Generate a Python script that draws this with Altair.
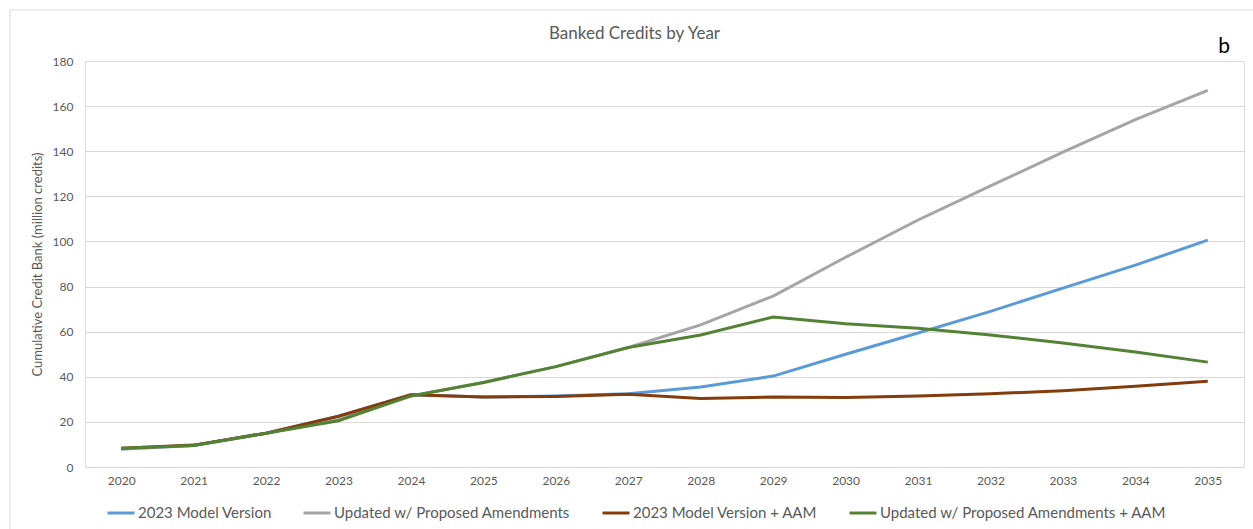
import altair as alt
import pandas as pd

years = [str(y) for y in range(2020, 2036)]

series_names = [
    "2023 Model Version",
    "Updated w/ Proposed Amendments",
    "2023 Model Version + AAM",
    "Updated w/ Proposed Amendments + AAM",
]
series_colors = ["#5B9BD5", "#A5A5A5", "#843C0C", "#548235"]

model_2023 = [8.0, 9.5, 15.0, 22.5, 32.0, 31.0, 31.5, 32.5, 35.5, 40.3, 50.0, 59.4, 69.0, 79.3, 89.5, 100.6]
updated = [8.0, 9.5, 15.0, 21.0, 31.5, 37.5, 44.5, 53.0, 63.0, 75.8, 93.0, 109.5, 124.6, 139.6, 154.0, 167.0]
model_2023_aam = [8.3, 9.7, 15.0, 22.5, 32.0, 31.0, 31.3, 32.3, 30.4, 31.0, 30.8, 31.5, 32.5, 33.8, 35.8, 38.0]
updated_aam = [8.3, 9.5, 15.0, 20.5, 31.5, 37.5, 44.5, 53.0, 58.5, 66.5, 63.5, 61.5, 58.5, 55.0, 51.0, 46.5]

rows = []
for name, vals in zip(series_names, [model_2023, updated, model_2023_aam, updated_aam]):
    for yr, v in zip(years, vals):
        rows.append({"Year": yr, "Value": v, "Series": name, "order": series_names.index(name)})
df = pd.DataFrame(rows)

W, H = 1159, 406
FONT = "Lato"
GRAY = "#595959"

lines = alt.Chart(df).mark_line(strokeWidth=3).encode(
    x=alt.X("Year:O", sort=years,
            scale=alt.Scale(type="point", padding=0.5),
            axis=alt.Axis(title=None, labelAngle=0, domain=False, ticks=False,
                          labelPadding=8, labelFontSize=12, labelColor=GRAY,
                          labelFont=FONT, grid=False)),
    y=alt.Y("Value:Q", scale=alt.Scale(domain=[0, 180], nice=False),
            axis=alt.Axis(title="Cumulative Credit Bank (million credits)",
                          values=list(range(0, 181, 20)), domain=False, ticks=False,
                          labelPadding=12, labelFontSize=12, labelColor=GRAY,
                          labelFont=FONT, titleFont=FONT, titleFontSize=13,
                          titleColor=GRAY, titleFontWeight="normal", titlePadding=8,
                          gridColor="#D9D9D9", gridWidth=1)),
    color=alt.Color("Series:N",
                    scale=alt.Scale(domain=series_names, range=series_colors),
                    legend=alt.Legend(title=None, orient="none", direction="horizontal",
                                      legendX=21, legendY=437, padding=0,
                                      symbolType="stroke", symbolStrokeWidth=3,
                                      symbolSize=729, labelFontSize=15, labelColor=GRAY,
                                      labelFont=FONT, labelOffset=2, columnPadding=25,
                                      labelLimit=500)),
    detail="order:O",
)

frame = alt.Chart(alt.Data(values=[{"a": 1}])).mark_rect(
    fill=None, stroke="#D9D9D9", strokeWidth=1
).encode(
    x=alt.value(-75), x2=alt.value(W + 40),
    y=alt.value(-51), y2=alt.value(H + 100),
)

tag = alt.Chart(alt.Data(values=[{"t": "b"}])).mark_text(
    fontSize=21, font=FONT, color="#000000", align="center", baseline="middle"
).encode(
    x=alt.value(1139), y=alt.value(-14), text="t:N"
)

chart = alt.layer(frame, lines, tag).properties(
    width=W, height=H,
    title=alt.TitleParams("Banked Credits by Year", font=FONT, fontSize=17,
                          color=GRAY, fontWeight="normal", anchor="middle",
                          offset=-33, dx=-30),
    autosize=alt.AutoSizeParams(type="none"),
    padding={"left": 85, "top": 61, "right": 9, "bottom": 62},
).configure_view(stroke=None).configure(background="white")

chart.save("out.html", embed_options={"renderer": "svg", "actions": False})
